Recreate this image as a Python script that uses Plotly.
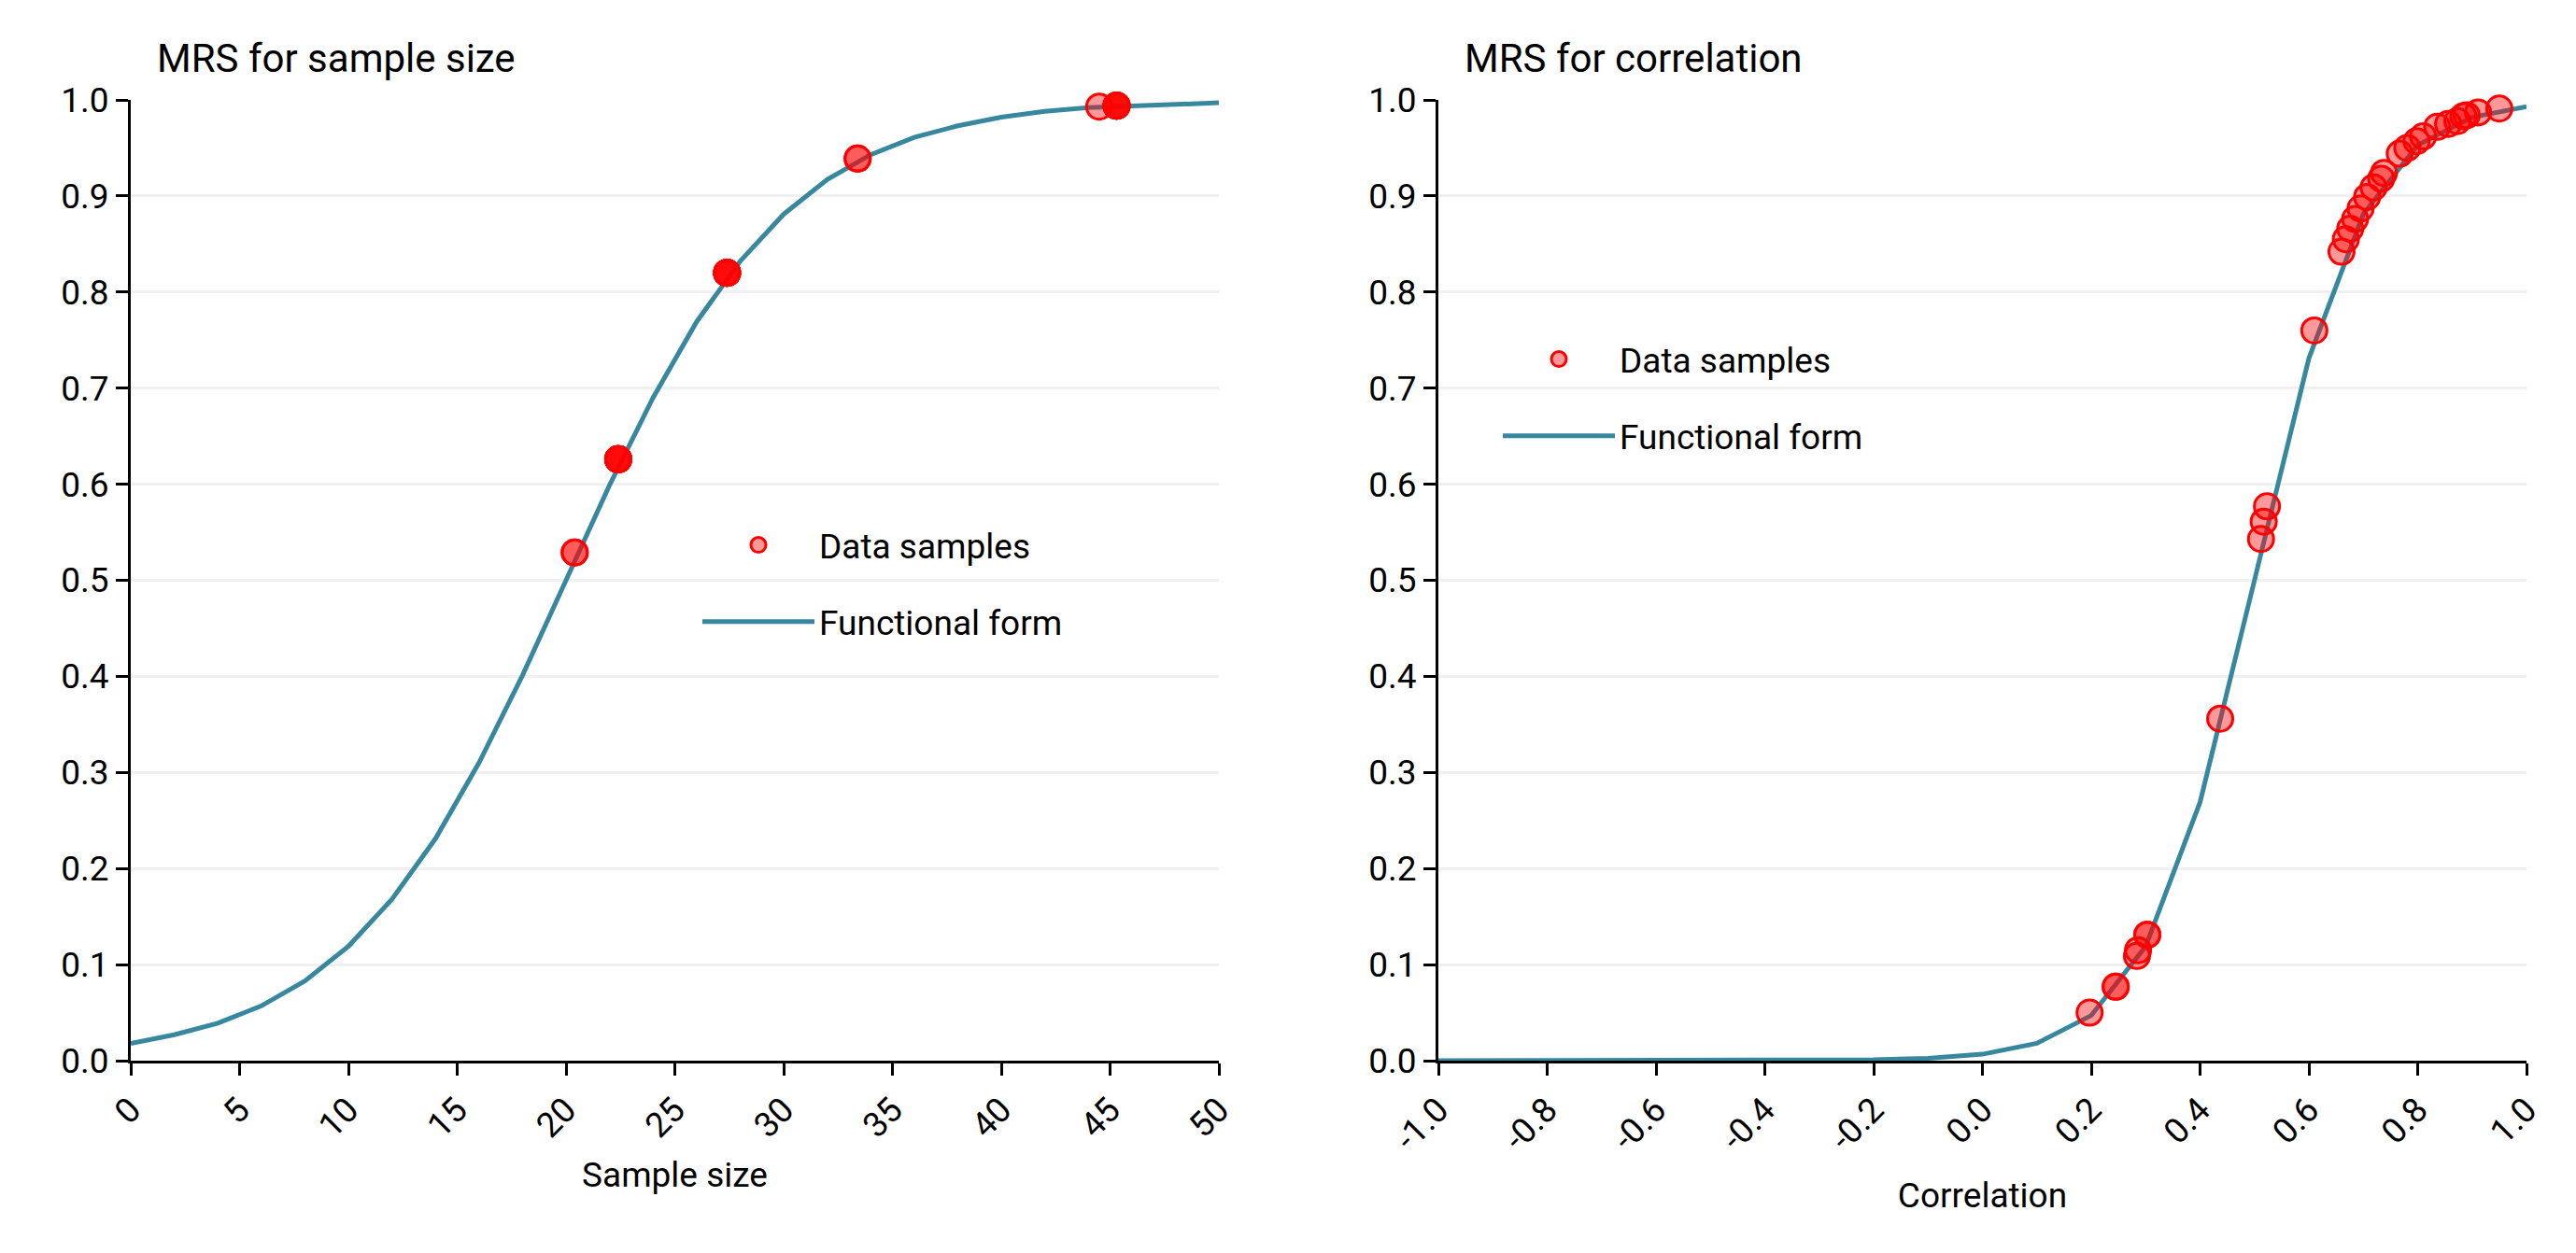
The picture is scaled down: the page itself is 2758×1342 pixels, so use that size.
import plotly.graph_objects as go
from plotly.subplots import make_subplots

# ---------------- data ----------------
size_curve_x = [0, 2, 4, 6, 8, 10, 12, 14, 16, 18, 20, 22, 24, 26, 28, 30,
                32, 34, 36, 38, 40, 42, 44, 46, 48, 50]
size_curve_y = [0.018, 0.027, 0.039, 0.057, 0.083, 0.119, 0.168, 0.231, 0.310,
                0.401, 0.500, 0.599, 0.690, 0.769, 0.832, 0.881, 0.917, 0.943,
                0.961, 0.973, 0.982, 0.988, 0.992, 0.994, 0.996, 0.997]

size_samples_x = [20.4, 20.4, 22.4, 22.4, 22.4, 22.4, 22.4, 22.4,
                  27.4, 27.4, 27.4, 27.4, 27.4, 27.4, 33.4, 33.4,
                  44.5, 45.3, 45.3, 45.3, 45.3, 45.3, 45.3]
size_samples_y = [0.529, 0.529, 0.626, 0.626, 0.626, 0.626, 0.626, 0.626,
                  0.820, 0.820, 0.820, 0.820, 0.820, 0.820, 0.939, 0.939,
                  0.993, 0.994, 0.994, 0.994, 0.994, 0.994, 0.994]

corr_curve_x = [-1.0, -0.9, -0.8, -0.7, -0.6, -0.5, -0.4, -0.3, -0.2, -0.1,
                0.0, 0.1, 0.2, 0.3, 0.4, 0.5, 0.6, 0.7, 0.8, 0.9, 1.0]
corr_curve_y = [0.0000, 0.0000, 0.0000, 0.0000, 0.0000, 0.0001, 0.0001, 0.0003,
                0.0009, 0.0025, 0.0067, 0.018, 0.047, 0.119, 0.269, 0.500,
                0.731, 0.881, 0.953, 0.982, 0.993]

corr_samples_x = [0.197, 0.245, 0.245, 0.284, 0.286, 0.303, 0.303, 0.437,
                  0.512, 0.517, 0.523, 0.610,
                  0.660, 0.668, 0.676, 0.685, 0.695, 0.707, 0.719, 0.733,
                  0.738, 0.767, 0.781, 0.798, 0.810, 0.836, 0.856, 0.873,
                  0.884, 0.890, 0.911, 0.950]
corr_samples_y = [0.050, 0.077, 0.077, 0.109, 0.115, 0.131, 0.131, 0.356,
                  0.543, 0.561, 0.577, 0.760,
                  0.842, 0.855, 0.866, 0.876, 0.887, 0.899, 0.909, 0.918,
                  0.924, 0.944, 0.950, 0.957, 0.962, 0.972, 0.975, 0.978,
                  0.983, 0.984, 0.987, 0.991]

size_ticks = [0, 5, 10, 15, 20, 25, 30, 35, 40, 45, 50]
corr_ticks = [-1.0, -0.8, -0.6, -0.4, -0.2, 0.0, 0.2, 0.4, 0.6, 0.8, 1.0]
corr_tick_labels = ["-1.0", "-0.8", "-0.6", "-0.4", "-0.2", "0.0",
                    "0.2", "0.4", "0.6", "0.8", "1.0"]
y_ticks = [0.0, 0.1, 0.2, 0.3, 0.4, 0.5, 0.6, 0.7, 0.8, 0.9, 1.0]

titles = ["MRS for sample size", "MRS for correlation"]
x_titles = ["Sample size", "Correlation"]
series_names = ["Data samples", "Functional form"]

# ---------------- style ----------------
FONT = "Roboto, sans-serif"
FS = 37
LINE_COLOR = "#37889e"
W, H = 2758, 1342
ML, MR, MT, MB = 132, 61, 99, 214
PW = W - ML - MR
PH = H - MT - MB

fig = make_subplots(rows=1, cols=2, horizontal_spacing=0.0)

marker_style = dict(size=27, color="rgba(255,0,0,0.4)",
                    line=dict(color="#ff0000", width=3))

fig.add_trace(go.Scatter(x=size_curve_x, y=size_curve_y, mode="lines",
                         name=series_names[1], legend="legend",
                         legendgroup="a_line", legendrank=2,
                         line=dict(color=LINE_COLOR, width=5)), row=1, col=1)
fig.add_trace(go.Scatter(x=size_samples_x, y=size_samples_y, mode="markers",
                         name=series_names[0], legend="legend",
                         legendgroup="a_pts", legendrank=1,
                         marker=marker_style, cliponaxis=False), row=1, col=1)
fig.add_trace(go.Scatter(x=corr_curve_x, y=corr_curve_y, mode="lines",
                         name=series_names[1], legend="legend2",
                         legendgroup="b_line", legendrank=2,
                         line=dict(color=LINE_COLOR, width=5)), row=1, col=2)
fig.add_trace(go.Scatter(x=corr_samples_x, y=corr_samples_y, mode="markers",
                         name=series_names[0], legend="legend2",
                         legendgroup="b_pts", legendrank=1,
                         marker=marker_style, cliponaxis=False), row=1, col=2)

left_dom = [0, (1297 - ML) / PW]
right_dom = [(1532 - ML) / PW, 1]

axis_common = dict(showline=True, linecolor="black", linewidth=3,
                   ticks="outside", tickcolor="black", tickwidth=3, ticklen=13,
                   tickfont=dict(family=FONT, size=FS, color="black"),
                   automargin=False, zeroline=False)

fig.update_xaxes(**axis_common, showgrid=False, tickangle=-45)
fig.update_yaxes(**axis_common, showgrid=True, gridcolor="#f0f0f0", gridwidth=3,
                 range=[0, 1], tickvals=y_ticks, tickformat=".1f")

fig.update_xaxes(domain=left_dom, range=[0, 50], tickvals=size_ticks,
                 title=dict(text=x_titles[0], font=dict(family=FONT, size=FS, color="black"),
                            standoff=20), row=1, col=1)
fig.update_xaxes(domain=right_dom, range=[-1, 1], tickvals=corr_ticks,
                 ticktext=corr_tick_labels,
                 title=dict(text=x_titles[1], font=dict(family=FONT, size=FS, color="black"),
                            standoff=28), row=1, col=2)

for i, ref in enumerate(["x domain", "x2 domain"]):
    fig.add_annotation(text=titles[i], xref=ref, yref="paper", x=0, y=1,
                       xanchor="left", yanchor="bottom", xshift=26, yshift=18,
                       showarrow=False,
                       font=dict(family=FONT, size=42, color="black"))

legend_common = dict(font=dict(family=FONT, size=FS, color="black"),
                     bgcolor="rgba(0,0,0,0)", tracegroupgap=31,
                     itemwidth=120, traceorder="grouped",
                     xanchor="left", yanchor="top")

fig.update_layout(
    width=W, height=H,
    margin=dict(l=ML, r=MR, t=MT, b=MB),
    plot_bgcolor="white", paper_bgcolor="white",
    font=dict(family=FONT, size=FS, color="black"),
    showlegend=True,
    legend=dict(**legend_common, x=(739 - ML) / PW, y=(1128 - 545) / PH),
    legend2=dict(**legend_common, x=(1596 - ML) / PW, y=(1128 - 346) / PH),
)

fig.write_html("out.html")
